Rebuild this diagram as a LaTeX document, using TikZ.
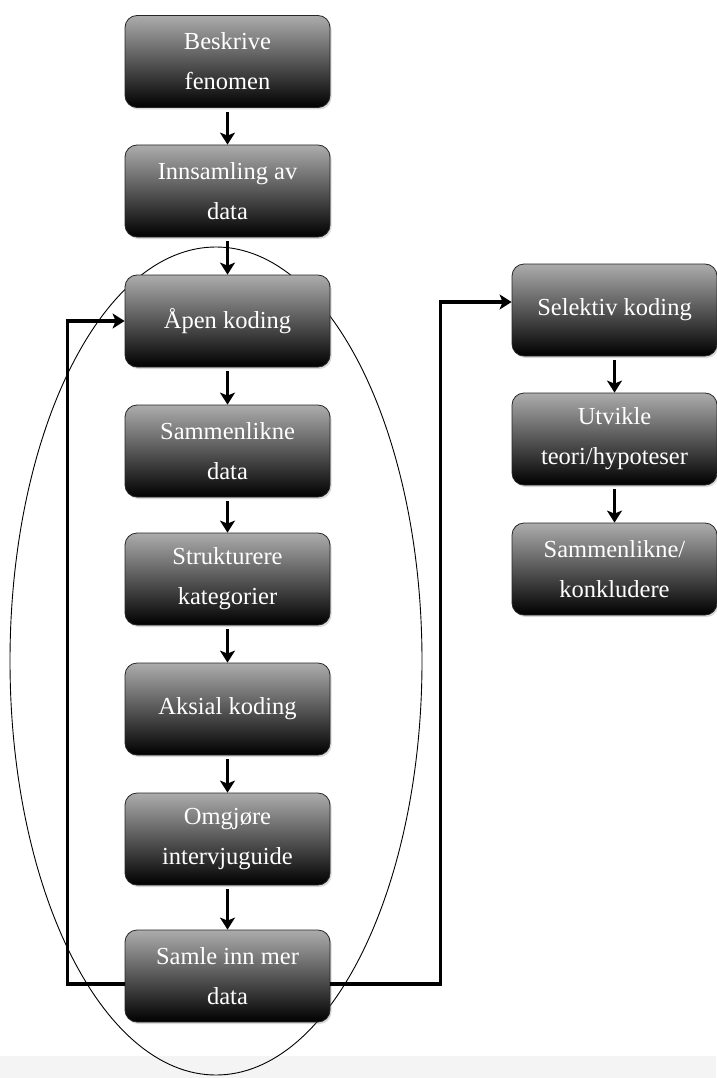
\documentclass[tikz,border=0pt]{standalone}
\usepackage{fontspec}
\setmainfont{Liberation Serif}
\usetikzlibrary{arrows.meta,shadows}
\definecolor{boxtop}{RGB}{172,172,172}
\definecolor{bandgray}{RGB}{244,244,244}
\begin{document}
\begin{tikzpicture}[x=1pt,y=1pt,
  box/.style={rounded corners=12pt, minimum width=205pt, minimum height=92pt,
    draw=black!85, line width=0.8pt, top color=boxtop, bottom color=black,
    text=white, font=\fontsize{24.5}{40}\selectfont, align=center,
    drop shadow={opacity=0.3, shadow xshift=1.5pt, shadow yshift=-2pt}},
  arr/.style={line width=3.6pt, -{Stealth[length=12pt,width=15pt,inset=3pt]}},
  loopline/.style={line width=3.2pt, -{Stealth[length=12pt,width=15pt,inset=3pt]}},
  ring/.style={line width=0.9pt, black}]
\useasboundingbox (0,0) rectangle (716,-1078);
\fill[bandgray] (0,-1056) rectangle (716,-1078);
\draw[ring] (216,-661) ellipse [x radius=206, y radius=414];

\node[box] (b1) at (227.5,-61.5) {Beskrive\\fenomen};
\node[box] (b2) at (227.5,-191) {Innsamling av\\data};
\node[box] (b3) at (227.5,-321) {Åpen koding};
\node[box] (b4) at (227.5,-451) {Sammenlikne\\data};
\node[box] (b5) at (227.5,-579) {Strukturere\\kategorier};
\node[box] (b6) at (227.5,-709) {Aksial koding};
\node[box] (b7) at (227.5,-839) {Omgjøre\\intervjuguide};
\node[box] (b8) at (227.5,-976) {Samle inn mer\\data};

\node[box] (r1) at (614.5,-310) {Selektiv koding};
\node[box] (r2) at (614.5,-439) {Utvikle\\teori/hypoteser};
\node[box] (r3) at (614.5,-569) {Sammenlikne/\\konkludere};

\foreach \a/\b in {b1/b2,b2/b3,b3/b4,b4/b5,b5/b6,b6/b7,b7/b8,r1/r2,r2/r3}
  \draw[arr, shorten <=4pt] (\a.south) -- (\b.north);

\draw[loopline] ([yshift=-8pt]b8.west) -- ++(-57,0) |- (b3.west);
\draw[loopline] ([yshift=-8pt]b8.east) -- ++(110,0) |- ([yshift=8pt]r1.west);
\end{tikzpicture}
\end{document}
